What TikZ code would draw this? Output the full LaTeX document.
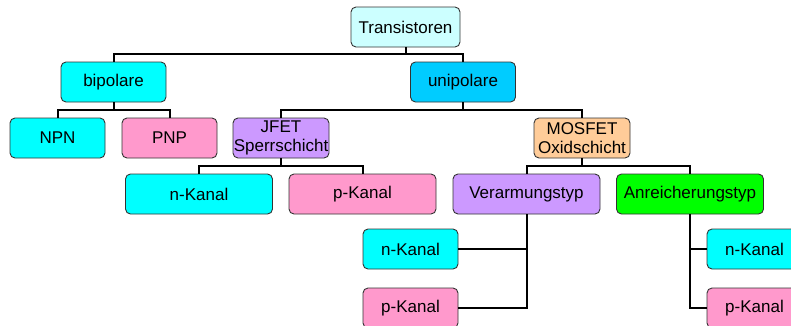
\documentclass[tikz,border=0pt]{standalone}
\usepackage{fontspec}
\setmainfont{Liberation Sans}
\definecolor{cLight}{HTML}{CCFFFF}
\definecolor{cCyan}{HTML}{00FFFF}
\definecolor{cBlue}{HTML}{00CCFF}
\definecolor{cPink}{HTML}{FF99CC}
\definecolor{cLav}{HTML}{CC99FF}
\definecolor{cPeach}{HTML}{FFCC99}
\definecolor{cGreen}{HTML}{00FF00}
\tikzset{
  box/.style={draw=black!80, line width=0.9pt, rounded corners=5pt, inner sep=0pt,
    minimum height=40pt, align=center, font=\fontsize{17}{19}\selectfont},
  wbox/.style={box, minimum width=105pt},
  nbox/.style={box, minimum width=95pt},
  lbox/.style={box, minimum width=147pt},
  conn/.style={line width=2pt, black}
}
\begin{document}
\begin{tikzpicture}[x=1pt,y=-1pt]
\useasboundingbox (0,0) rectangle (791,325);
\node[box, minimum width=109pt, fill=cLight] (T) at (405.5,27) {Transistoren};
\node[wbox, fill=cCyan] (bip) at (113.5,82) {bipolare};
\node[wbox, fill=cBlue] (uni) at (463,82) {unipolare};
\node[nbox, fill=cCyan] (npn) at (57.5,138) {NPN};
\node[nbox, fill=cPink] (pnp) at (169.5,138) {PNP};
\node[nbox, minimum width=96pt, fill=cLav] (jfet) at (281,138) {JFET\\Sperrschicht};
\node[nbox, minimum width=96pt, fill=cPeach] (mos) at (582,138) {MOSFET\\Oxidschicht};
\node[lbox, fill=cCyan] (jn) at (199,194) {n-Kanal};
\node[lbox, fill=cPink] (jp) at (362.5,194) {p-Kanal};
\node[lbox, fill=cLav] (ver) at (526.5,194) {Verarmungstyp};
\node[lbox, fill=cGreen] (anr) at (690,194) {Anreicherungstyp};
\node[nbox, fill=cCyan] (vn) at (410.5,249) {n-Kanal};
\node[nbox, fill=cPink] (vp) at (410.5,308) {p-Kanal};
\node[nbox, fill=cCyan] (an) at (754.5,249) {n-Kanal};
\node[nbox, fill=cPink] (ap) at (754.5,308) {p-Kanal};
% connectors
\draw[conn] (T.south) -- ++(0,7) -| (bip.north);
\draw[conn] (T.south) -- ++(0,7) -| (uni.north);
\draw[conn] (bip.south) -- ++(0,8) -| (npn.north);
\draw[conn] (bip.south) -- ++(0,8) -| (pnp.north);
\draw[conn] (uni.south) -- ++(0,8) -| (jfet.north);
\draw[conn] (uni.south) -- ++(0,8) -| (mos.north);
\draw[conn] (jfet.south) -- ++(0,8) -| (jn.north);
\draw[conn] (jfet.south) -- ++(0,8) -| (jp.north);
\draw[conn] (mos.south) -- ++(0,8) -| (ver.north);
\draw[conn] (mos.south) -- ++(0,8) -| (anr.north);
\draw[conn] (ver.south) |- (vn.east);
\draw[conn] (ver.south) |- (vp.east);
\draw[conn] (anr.south) |- (an.west);
\draw[conn] (anr.south) |- (ap.west);
\end{tikzpicture}
\end{document}
